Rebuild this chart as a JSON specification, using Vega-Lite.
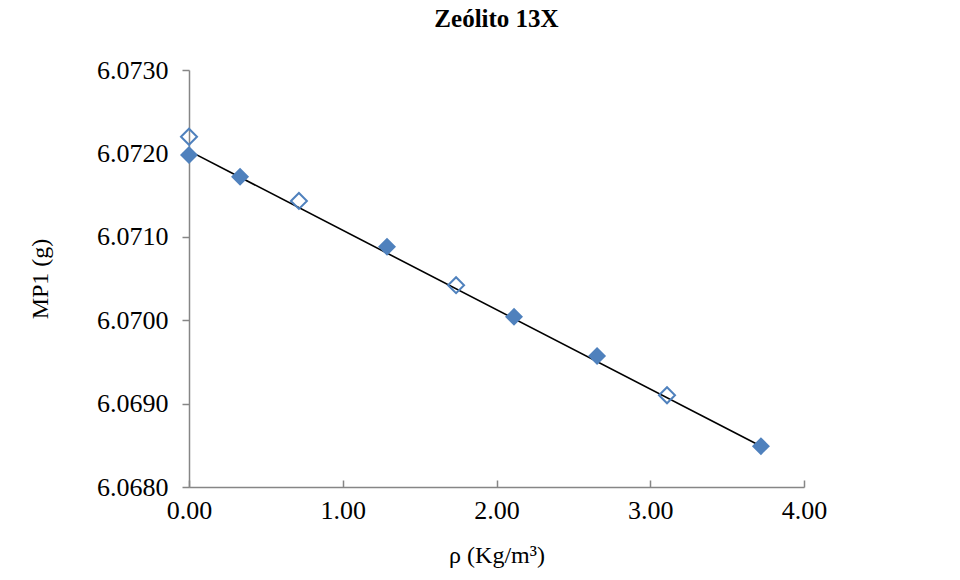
{
  "$schema": "https://vega.github.io/schema/vega-lite/v6.json",
  "width": 615,
  "height": 417,
  "autosize": {"type": "none"},
  "padding": {"left": 189, "top": 70, "right": 156, "bottom": 93},
  "background": "white",
  "config": {
    "view": {"stroke": null},
    "font": "Liberation Serif",
    "axis": {"grid": false, "domainColor": "#868686", "tickColor": "#868686", "labelColor": "#000000", "titleColor": "#000000", "labelFont": "Liberation Serif", "titleFont": "Liberation Serif", "labelFontSize": 26, "titleFontSize": 24, "titleFontWeight": "normal", "domainWidth": 1.5, "tickWidth": 1.5, "labelFlush": false, "labelOverlap": false}
  },
  "title": {"text": "Zeólito 13X", "font": "Liberation Serif", "fontSize": 25, "fontWeight": "bold", "color": "#000000", "anchor": "middle", "offset": 25},
  "datasets": {
    "points": [
      {"rho": 0.0, "mp1": 6.07198, "serie": "filled"},
      {"rho": 0.332, "mp1": 6.07172, "serie": "filled"},
      {"rho": 1.288, "mp1": 6.07088, "serie": "filled"},
      {"rho": 2.114, "mp1": 6.07004, "serie": "filled"},
      {"rho": 2.654, "mp1": 6.06957, "serie": "filled"},
      {"rho": 3.72, "mp1": 6.06849, "serie": "filled"},
      {"rho": 0.0, "mp1": 6.0722, "serie": "open"},
      {"rho": 0.715, "mp1": 6.07143, "serie": "open"},
      {"rho": 1.737, "mp1": 6.07042, "serie": "open"},
      {"rho": 3.109, "mp1": 6.0691, "serie": "open"}
    ],
    "fit": [
      {"rho": 0.0, "mp1": 6.07203},
      {"rho": 3.73, "mp1": 6.06848}
    ]
  },
  "layer": [
    {
      "data": {"name": "fit"},
      "mark": {"type": "line", "color": "#000000", "strokeWidth": 1.6},
      "encoding": {
        "x": {"field": "rho", "type": "quantitative", "scale": {"domain": [0, 4], "nice": false, "zero": false},
          "axis": {"title": "ρ (Kg/m³)", "values": [0, 1, 2, 3, 4], "format": ".2f", "tickSize": -7, "labelPadding": 17, "titlePadding": 20}},
        "y": {"field": "mp1", "type": "quantitative", "scale": {"domain": [6.068, 6.073], "nice": false, "zero": false},
          "axis": {"title": "MP1 (g)", "values": [6.068, 6.069, 6.07, 6.071, 6.072, 6.073], "format": ".4f", "tickSize": 7, "labelPadding": 14, "titlePadding": 44}}
      }
    },
    {
      "data": {"name": "points"},
      "transform": [{"filter": "datum.serie === 'open'"}],
      "mark": {"type": "point", "shape": "diamond", "filled": false, "stroke": "#4F81BD", "strokeWidth": 2, "size": 256, "opacity": 1},
      "encoding": {
        "x": {"field": "rho", "type": "quantitative"},
        "y": {"field": "mp1", "type": "quantitative"}
      }
    },
    {
      "data": {"name": "points"},
      "transform": [{"filter": "datum.serie === 'filled'"}],
      "mark": {"type": "point", "shape": "diamond", "filled": true, "fill": "#4F81BD", "size": 324, "opacity": 1},
      "encoding": {
        "x": {"field": "rho", "type": "quantitative"},
        "y": {"field": "mp1", "type": "quantitative"}
      }
    }
  ]
}
